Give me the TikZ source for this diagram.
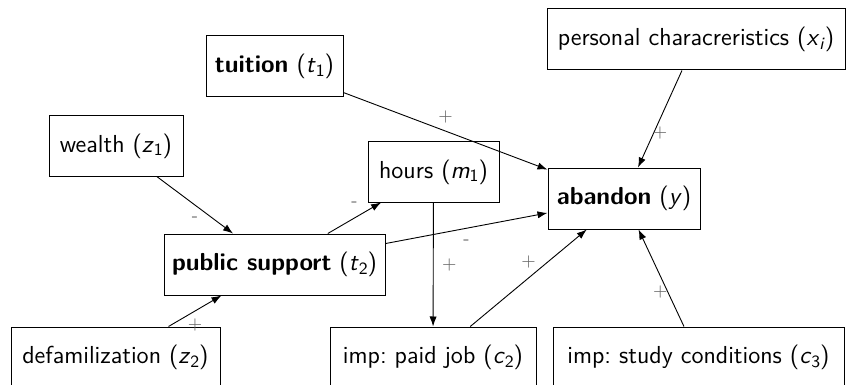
\documentclass[tikz,border=0pt]{standalone}
\usetikzlibrary{arrows.meta}
% italic variable with a slightly lowered index
\newcommand{\mvar}[2]{\textit{#1}\raisebox{-0.35ex}{\fontsize{8.6}{9}\selectfont #2}}
\begin{document}
\begin{tikzpicture}[x=0.5pt,y=-0.5pt,
  font=\sffamily\fontsize{12.3}{15}\selectfont,
  box/.style={draw, line width=0.5pt, inner xsep=4pt, minimum height=30.5pt, align=center},
  arr/.style={-{Latex[length=5pt,width=3.6pt]}, line width=0.45pt},
  sgn/.style={text=black!60, font=\sffamily\small, inner sep=0pt},
  up/.style={sgn, midway, yshift=7pt},
  dn/.style={sgn, midway, yshift=-7pt}]
\useasboundingbox (0,0) rectangle (846,385);

% variables
\node[box, minimum width=68.5pt] (tuition) at (274.5,66.5) {\textbf{tuition} (\mvar{t}{1})};
\node[box, minimum width=67pt, minimum height=30pt] (wealth) at (116,146) {wealth (\mvar{z}{1})};
\node[box, minimum width=65.5pt, minimum height=30pt] (hours) at (433.5,172) {hours (\mvar{m}{1})};
\node[box, minimum width=149pt] (personal) at (696,39.5) {personal characreristics (\mvar{x}{\textit{i}})};
\node[box, minimum width=76pt] (abandon) at (624,198.5) {\textbf{abandon} (\textit{y})};
\node[box, minimum width=110.5pt] (public) at (274.5,264.5) {\textbf{public support} (\mvar{t}{2})};
\node[box, minimum width=104.5pt] (defam) at (115.5,357.5) {defamilization (\mvar{z}{2})};
\node[box, minimum width=103pt] (paid) at (433,357.5) {imp:\ paid job (\mvar{c}{2})};
\node[box, minimum width=145.5pt] (study) at (698.5,357.5) {imp:\ study conditions (\mvar{c}{3})};

% effects
\draw[arr] (tuition) -- (abandon) node[up] {+};
\draw[arr] (personal) -- (abandon) node[dn] {+};
\draw[arr] (wealth) -- (public) node[dn] {-};
\draw[arr] (public) -- (hours) node[up] {-};
\draw[arr] (public) -- (abandon) node[dn] {-};
\draw[arr] (defam) -- (public) node[dn] {+};
\draw[arr] (hours) -- (paid) node[sgn, midway, xshift=8pt] {+};
\draw[arr] (paid) -- (abandon) node[up, yshift=1pt] {+};
\draw[arr] (study) -- (abandon) node[dn, xshift=-0.5pt] {+};
\end{tikzpicture}
\end{document}
